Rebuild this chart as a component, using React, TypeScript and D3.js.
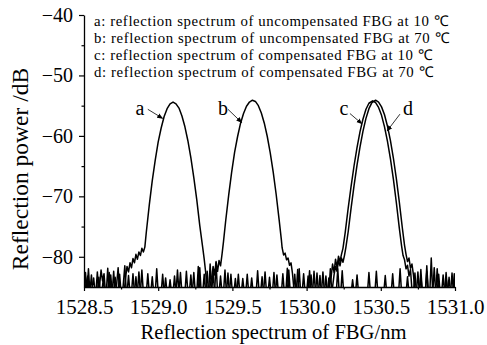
import { useEffect, useRef } from 'react'
import * as d3 from 'd3'

type Pt = [number, number]

// spectrum a: uncompensated FBG at 10 C
const curveA: Pt[] = [
  [1528.50, -86], [1528.51, -82.6], [1528.52, -86], [1528.55, -86], [1528.565, -83.5], [1528.575, -86],
  [1528.60, -86], [1528.615, -82.2], [1528.625, -84], [1528.635, -82.8], [1528.645, -86], [1528.67, -86],
  [1528.68, -83], [1528.69, -86], [1528.715, -86], [1528.73, -81.8], [1528.74, -86], [1528.77, -86],
  [1528.78, -83.5], [1528.79, -81.6], [1528.80, -82.5], [1528.81, -81], [1528.82, -81.8], [1528.83, -80.3],
  [1528.84, -81], [1528.85, -79.6], [1528.86, -80.4], [1528.87, -79.2], [1528.88, -79.8], [1528.89, -78.6],
  [1528.90, -79.2], [1528.91, -78.4], [1528.92, -75.9], [1528.94, -71.4], [1528.96, -67.4], [1528.98, -64.0],
  [1529.00, -61.0], [1529.02, -58.7], [1529.04, -56.8], [1529.06, -55.5], [1529.08, -54.7], [1529.10, -54.4],
  [1529.12, -54.7], [1529.14, -55.4], [1529.16, -56.7], [1529.18, -58.5], [1529.20, -60.8], [1529.22, -63.6],
  [1529.24, -66.9], [1529.26, -70.6], [1529.28, -74.8], [1529.30, -78.5], [1529.31, -80.4], [1529.32, -82.6],
  [1529.33, -85.5], [1529.36, -86], [1529.37, -82.4], [1529.38, -86], [1529.41, -86], [1529.42, -83.2],
  [1529.43, -86], [1529.48, -86], [1529.49, -82.9], [1529.50, -86], [1529.56, -86], [1529.57, -83.6],
  [1529.58, -86], [1529.66, -86], [1529.67, -82.3], [1529.68, -86], [1529.74, -86], [1529.75, -83.4],
  [1529.76, -86], [1529.83, -86], [1529.84, -82.8], [1529.85, -86], [1529.93, -86], [1529.94, -82.1],
  [1529.95, -86], [1530.02, -86], [1530.03, -83.0], [1530.04, -86], [1530.10, -86], [1530.11, -82.5],
  [1530.12, -86], [1530.20, -86], [1530.21, -82.0], [1530.22, -86], [1530.30, -86], [1530.31, -83.8],
  [1530.32, -86], [1530.41, -86], [1530.42, -82.6], [1530.43, -86], [1530.52, -86], [1530.53, -83.1],
  [1530.54, -86], [1530.62, -86], [1530.63, -82.0], [1530.64, -86], [1530.72, -86], [1530.73, -82.7],
  [1530.74, -86], [1530.80, -86], [1530.81, -81.5], [1530.82, -86], [1530.88, -86], [1530.89, -82.9],
  [1530.90, -86], [1530.95, -86], [1530.96, -83.4], [1530.97, -86], [1531.0, -86],
]

// spectrum b: uncompensated FBG at 70 C
const curveB: Pt[] = [
  [1528.50, -86], [1528.525, -83.2], [1528.535, -86], [1528.58, -86], [1528.59, -82.5], [1528.60, -86],
  [1528.65, -86], [1528.66, -81.9], [1528.67, -86], [1528.70, -86], [1528.71, -83.4], [1528.72, -86],
  [1528.76, -86], [1528.775, -81.5], [1528.785, -86], [1528.82, -86], [1528.83, -82.8], [1528.84, -86],
  [1528.88, -86], [1528.89, -82.2], [1528.90, -86], [1528.95, -86], [1528.96, -83.3], [1528.97, -86],
  [1529.02, -86], [1529.03, -82.9], [1529.04, -86], [1529.07, -86], [1529.08, -83.8], [1529.09, -86],
  [1529.14, -86], [1529.15, -82.6], [1529.16, -86], [1529.21, -86], [1529.22, -83.0], [1529.23, -86],
  [1529.27, -86], [1529.28, -81.8], [1529.29, -86], [1529.32, -86], [1529.33, -82.4], [1529.34, -86],
  [1529.36, -83.5], [1529.37, -81.6], [1529.38, -83.0], [1529.39, -80.8], [1529.40, -82.4], [1529.41, -80.6],
  [1529.42, -81.5], [1529.43, -79.6], [1529.44, -77.5], [1529.455, -74.0], [1529.475, -69.8], [1529.495, -66.0],
  [1529.515, -62.7], [1529.535, -60.1], [1529.555, -57.9], [1529.575, -56.3], [1529.595, -55.1], [1529.615, -54.4],
  [1529.635, -54.1], [1529.655, -54.3], [1529.675, -55.0], [1529.695, -56.2], [1529.715, -57.9], [1529.735, -60.1],
  [1529.755, -62.8], [1529.775, -66.0], [1529.795, -69.7], [1529.815, -73.9], [1529.83, -77.2], [1529.835, -78.5],
  [1529.845, -79.7], [1529.855, -79.4], [1529.865, -80.5], [1529.875, -80.2], [1529.885, -81.4], [1529.895, -81.0],
  [1529.905, -82.8], [1529.915, -85.5], [1529.94, -86], [1529.95, -82.0], [1529.96, -86], [1530.00, -86],
  [1530.01, -83.2], [1530.02, -86], [1530.06, -86], [1530.07, -82.7], [1530.08, -86], [1530.14, -86],
  [1530.15, -83.5], [1530.16, -86], [1530.23, -86], [1530.24, -82.3], [1530.25, -86], [1530.33, -86],
  [1530.34, -83.0], [1530.35, -86], [1530.46, -86], [1530.47, -82.4], [1530.48, -86], [1530.57, -86],
  [1530.58, -82.8], [1530.59, -86], [1530.67, -86], [1530.68, -83.3], [1530.69, -86], [1530.76, -86],
  [1530.77, -82.1], [1530.78, -86], [1530.85, -86], [1530.86, -81.8], [1530.87, -86], [1530.93, -86],
  [1530.94, -82.6], [1530.95, -86], [1530.99, -86], [1531.0, -83.5],
]

// spectrum c: compensated FBG at 10 C
const curveC: Pt[] = [
  [1528.50, -86], [1528.54, -86], [1528.55, -83.0], [1528.56, -86], [1528.62, -86], [1528.63, -83.6],
  [1528.64, -86], [1528.69, -86], [1528.70, -82.4], [1528.71, -86], [1528.79, -86], [1528.80, -83.1],
  [1528.81, -86], [1528.86, -86], [1528.87, -82.5], [1528.88, -86], [1528.98, -86], [1528.99, -82.0],
  [1529.00, -86], [1529.10, -86], [1529.11, -83.2], [1529.12, -86], [1529.18, -86], [1529.19, -82.4],
  [1529.20, -86], [1529.26, -86], [1529.27, -81.6], [1529.28, -86], [1529.34, -86], [1529.35, -81.2],
  [1529.36, -86], [1529.44, -86], [1529.45, -82.2], [1529.46, -86], [1529.53, -86], [1529.54, -82.9],
  [1529.55, -86], [1529.62, -86], [1529.63, -83.5], [1529.64, -86], [1529.71, -86], [1529.72, -82.5],
  [1529.73, -86], [1529.79, -86], [1529.80, -83.0], [1529.81, -86], [1529.87, -86], [1529.88, -82.2],
  [1529.89, -86], [1529.97, -86], [1529.98, -82.8], [1529.99, -86], [1530.04, -86], [1530.05, -82.4],
  [1530.06, -86], [1530.12, -86], [1530.13, -83.2], [1530.14, -86], [1530.165, -83.4], [1530.175, -81.2],
  [1530.185, -82.6], [1530.195, -80.4], [1530.205, -81.8], [1530.215, -79.9], [1530.225, -80.8], [1530.235, -79.6],
  [1530.245, -78.6], [1530.26, -76.0], [1530.28, -72.0], [1530.30, -68.3], [1530.32, -64.9], [1530.34, -61.9],
  [1530.36, -59.3], [1530.38, -57.2], [1530.40, -55.6], [1530.42, -54.6], [1530.445, -54.2], [1530.465, -54.5],
  [1530.485, -55.3], [1530.505, -56.6], [1530.525, -58.5], [1530.545, -60.9], [1530.565, -63.8], [1530.585, -67.2],
  [1530.605, -71.1], [1530.625, -75.3], [1530.64, -78.2], [1530.65, -79.8], [1530.66, -80.5], [1530.67, -82.0],
  [1530.68, -81.4], [1530.69, -83.2], [1530.70, -82.1], [1530.71, -85.5], [1530.74, -86], [1530.75, -82.5],
  [1530.76, -86], [1530.83, -86], [1530.84, -80.2], [1530.85, -86], [1530.91, -86], [1530.92, -83.0],
  [1530.93, -86], [1530.97, -86], [1530.98, -82.7], [1530.99, -86],
]

// spectrum d: compensated FBG at 70 C
const curveD: Pt[] = [
  [1528.50, -86], [1528.52, -86], [1528.53, -82.0], [1528.54, -86], [1528.59, -86], [1528.60, -83.4],
  [1528.61, -86], [1528.66, -86], [1528.67, -82.6], [1528.68, -86], [1528.73, -86], [1528.74, -82.9],
  [1528.75, -86], [1528.84, -86], [1528.85, -83.3], [1528.86, -86], [1528.92, -86], [1528.93, -82.8],
  [1528.94, -86], [1529.04, -86], [1529.05, -83.5], [1529.06, -86], [1529.12, -86], [1529.13, -82.2],
  [1529.14, -86], [1529.23, -86], [1529.24, -82.6], [1529.25, -86], [1529.30, -86], [1529.31, -82.9],
  [1529.32, -86], [1529.38, -86], [1529.39, -81.0], [1529.40, -86], [1529.46, -86], [1529.47, -82.7],
  [1529.48, -86], [1529.51, -86], [1529.52, -83.6], [1529.53, -86], [1529.59, -86], [1529.60, -82.9],
  [1529.61, -86], [1529.69, -86], [1529.70, -83.3], [1529.71, -86], [1529.77, -86], [1529.78, -82.6],
  [1529.79, -86], [1529.86, -86], [1529.87, -81.9], [1529.88, -86], [1529.91, -86], [1529.92, -82.9],
  [1529.93, -86], [1530.01, -86], [1530.02, -82.3], [1530.03, -86], [1530.08, -86], [1530.09, -83.1],
  [1530.10, -86], [1530.15, -86], [1530.16, -82.0], [1530.17, -86], [1530.185, -83.0], [1530.195, -81.6],
  [1530.205, -82.4], [1530.215, -80.6], [1530.225, -81.5], [1530.235, -80.2], [1530.245, -80.9], [1530.255, -79.8],
  [1530.265, -78.4], [1530.28, -75.9], [1530.30, -71.9], [1530.32, -68.2], [1530.34, -64.8], [1530.36, -61.8],
  [1530.38, -59.2], [1530.40, -57.1], [1530.42, -55.5], [1530.44, -54.5], [1530.465, -54.1], [1530.485, -54.4],
  [1530.505, -55.2], [1530.525, -56.5], [1530.545, -58.4], [1530.565, -60.8], [1530.585, -63.7], [1530.605, -67.1],
  [1530.625, -71.0], [1530.645, -75.2], [1530.66, -78.1], [1530.67, -79.6], [1530.68, -80.8], [1530.69, -80.2],
  [1530.70, -81.9], [1530.71, -81.2], [1530.72, -83.0], [1530.73, -85.5], [1530.76, -86], [1530.77, -83.2],
  [1530.78, -86], [1530.80, -86], [1530.81, -82.4], [1530.82, -86], [1530.87, -86], [1530.88, -82.0],
  [1530.89, -86], [1530.93, -86], [1530.94, -83.4], [1530.95, -86], [1530.985, -86], [1530.995, -82.8],
  [1531.0, -86],
]

const xTicks = [1528.5, 1529.0, 1529.5, 1530.0, 1530.5, 1531.0]
const xMinorTicks = [1528.75, 1529.25, 1529.75, 1530.25, 1530.75]
const yTicks = [-80, -70, -60, -50, -40]
const yMinorTicks = [-75, -65, -55, -45]

const legendLabels = [
  'a: reflection spectrum of uncompensated FBG at 10 \u2103',
  'b: reflection spectrum of uncompensated FBG at 70 \u2103',
  'c: reflection spectrum of compensated FBG at 10 \u2103',
  'd: reflection spectrum of compensated FBG at 70 \u2103',
]

// curve tags: label anchor (wavelength, dB) and leader line from -> to
const tagNames = ['a', 'b', 'c', 'd']
const tagAnchors: Pt[] = [[1528.877, -56.5], [1529.437, -56.6], [1530.252, -56.5], [1530.683, -56.6]]
const tagLeaderFrom: Pt[] = [[1528.93, -55.6], [1529.47, -55.6], [1530.292, -56.3], [1530.629, -56.4]]
const tagLeaderTo: Pt[] = [[1529.03, -57.1], [1529.563, -57.8], [1530.373, -58.0], [1530.542, -59.2]]

const FONT = '"Liberation Serif", "Times New Roman", serif'

export default function App() {
  const svgRef = useRef<SVGSVGElement>(null)

  useEffect(() => {
    if (!svgRef.current) return
    const root = d3.select(svgRef.current)
    root.selectAll('*').remove()

    const W = 487
    const H = 345
    const x = d3.scaleLinear().domain([1528.5, 1531.0]).range([84, 455])
    const y = d3.scaleLinear().domain([-85, -40]).range([287, 15])

    root.attr('width', W).attr('height', H)
    root.append('rect').attr('width', W).attr('height', H).attr('fill', '#fff')

    const defs = root.append('defs')
    defs.append('clipPath').attr('id', 'plot-clip')
      .append('rect')
      .attr('x', x(1528.5)).attr('y', y(-40) - 10)
      .attr('width', x(1531) - x(1528.5)).attr('height', y(-85) - y(-40) + 10)

    defs.append('marker')
      .attr('id', 'arrow')
      .attr('viewBox', '0 0 10 10')
      .attr('refX', 9).attr('refY', 5)
      .attr('markerWidth', 6).attr('markerHeight', 6)
      .attr('markerUnits', 'userSpaceOnUse')
      .attr('orient', 'auto')
      .append('path')
      .attr('d', 'M0,1 L10,5 L0,9 Z')
      .attr('fill', '#000')

    // curves
    const line = d3.line<Pt>().x(d => x(d[0])).y(d => y(d[1]))
    const g = root.append('g').attr('clip-path', 'url(#plot-clip)')
    ;[curveA, curveB, curveC, curveD].forEach(c => {
      g.append('path')
        .attr('d', line(c))
        .attr('fill', 'none')
        .attr('stroke', '#000')
        .attr('stroke-width', 1.5)
        .attr('stroke-linejoin', 'round')
    })

    // axes
    const styleAxis = (sel: any, size: number) => {
      sel.attr('font-family', FONT).attr('font-size', size)
      sel.select('.domain').attr('stroke', '#000').attr('stroke-width', 1.3)
      sel.selectAll('.tick line').attr('stroke', '#000').attr('stroke-width', 1.2)
      sel.selectAll('.tick text')
        .attr('fill', '#000')
        .style('font-family', FONT)
        .style('font-size', `${size}px`)
    }

    const yAxis = root.append('g')
      .attr('transform', `translate(${x(1528.5)},0)`)
      .call(d3.axisLeft(y).tickValues(yTicks).tickSize(5).tickSizeOuter(0).tickPadding(6)
        .tickFormat(d => `${d3.format('d')(d as number)}`))
    styleAxis(yAxis, 20)
    root.append('g')
      .attr('transform', `translate(${x(1528.5)},0)`)
      .call(d3.axisLeft(y).tickValues(yMinorTicks).tickSize(2.5).tickFormat(() => ''))
      .call(s => s.select('.domain').remove())
      .call(s => s.selectAll('.tick line').attr('stroke', '#000').attr('stroke-width', 1.2))

    const xAxis = root.append('g')
      .attr('transform', `translate(0,${y(-85)})`)
      .call(d3.axisBottom(x).tickValues(xTicks).tickSize(4).tickSizeOuter(0).tickPadding(8)
        .tickFormat(d => d3.format('.1f')(d as number)))
    styleAxis(xAxis, 21)
    root.append('g')
      .attr('transform', `translate(0,${y(-85)})`)
      .call(d3.axisBottom(x).tickValues(xMinorTicks).tickSize(2.5).tickFormat(() => ''))
      .call(s => s.select('.domain').remove())
      .call(s => s.selectAll('.tick line').attr('stroke', '#000').attr('stroke-width', 1.2))

    // axis titles
    root.append('text')
      .attr('x', (x(1528.5) + x(1531)) / 2 + 4)
      .attr('y', 339)
      .attr('text-anchor', 'middle')
      .style('font-family', FONT)
      .style('font-size', '20.6px')
      .text('Reflection spectrum of FBG/nm')

    root.append('text')
      .attr('transform', `translate(28,169) rotate(-90)`)
      .attr('text-anchor', 'middle')
      .style('font-family', FONT)
      .style('font-size', '23.5px')
      .text('Reflection power /dB')

    // legend
    legendLabels.forEach((t, i) => {
      root.append('text')
        .attr('x', 94)
        .attr('y', 26 + i * 17)
        .style('font-family', FONT)
        .style('font-size', '14.8px')
        .style('letter-spacing', '0.6px')
        .text(t)
    })

    // curve tags
    tagNames.forEach((n, i) => {
      root.append('text')
        .attr('x', x(tagAnchors[i][0]))
        .attr('y', y(tagAnchors[i][1]))
        .attr('text-anchor', 'middle')
        .style('font-family', FONT)
        .style('font-size', '20px')
        .text(n)
      root.append('line')
        .attr('x1', x(tagLeaderFrom[i][0])).attr('y1', y(tagLeaderFrom[i][1]))
        .attr('x2', x(tagLeaderTo[i][0])).attr('y2', y(tagLeaderTo[i][1]))
        .attr('stroke', '#000')
        .attr('stroke-width', 0.8)
        .attr('marker-end', 'url(#arrow)')
    })
  }, [])

  return (
    <svg ref={svgRef} style={{ position: 'absolute', left: 0, top: 0, display: 'block' }} />
  )
}
